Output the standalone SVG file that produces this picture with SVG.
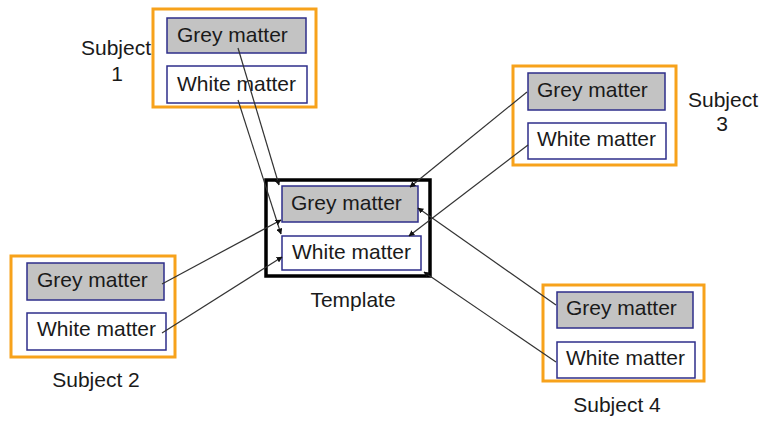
<svg xmlns="http://www.w3.org/2000/svg" width="760" height="421" viewBox="0 0 760 421">
<defs>
<style>
.t{font-family:"Liberation Sans",Arial,sans-serif;font-size:21px;fill:#1a1a1a}
.grp{fill:none;stroke:#f7a21b;stroke-width:3}
.tpl{fill:none;stroke:#000;stroke-width:3.5}
.g{fill:#c3c3c3;stroke:#2e2e8a;stroke-width:1.5}
.w{fill:#fff;stroke:#2e2e8a;stroke-width:1.5}
.c{fill:none;stroke:#333;stroke-width:1.2;marker-end:url(#ah)}
</style>
<marker id="ah" viewBox="0 0 10 10" refX="9" refY="5" markerWidth="6" markerHeight="6" orient="auto" markerUnits="userSpaceOnUse">
<path d="M0,0 L10,5 L0,10 z" fill="#111"/>
</marker>
</defs>
<rect width="760" height="421" fill="#fff"/>

<g id="subject1">
<rect class="grp" x="153" y="9" width="163" height="98"/>
<rect class="g" x="167" y="18" width="139" height="35"/>
<text class="t" x="177" y="42">Grey matter</text>
<rect class="w" x="167" y="66" width="140" height="37"/>
<text class="t" x="177" y="91">White matter</text>
<text class="t" x="81" y="55">Subject</text>
<text class="t" x="117" y="81" text-anchor="middle">1</text>
</g>

<g id="subject3">
<rect class="grp" x="513" y="66" width="163" height="99"/>
<rect class="g" x="528" y="73" width="137" height="37"/>
<text class="t" x="537" y="97">Grey matter</text>
<rect class="w" x="528" y="123" width="138" height="36"/>
<text class="t" x="537" y="146">White matter</text>
<text class="t" x="688" y="107">Subject</text>
<text class="t" x="722" y="131" text-anchor="middle">3</text>
</g>

<g id="subject2">
<rect class="grp" x="11" y="256" width="164" height="101"/>
<rect class="g" x="27" y="263" width="137" height="37"/>
<text class="t" x="37" y="287">Grey matter</text>
<rect class="w" x="27" y="313" width="139" height="37"/>
<text class="t" x="37" y="336">White matter</text>
<text class="t" x="96" y="387" text-anchor="middle">Subject 2</text>
</g>

<g id="subject4">
<rect class="grp" x="543" y="285" width="161" height="96"/>
<rect class="g" x="557" y="292" width="136" height="36"/>
<text class="t" x="566" y="315">Grey matter</text>
<rect class="w" x="557" y="342" width="138" height="36"/>
<text class="t" x="566" y="365">White matter</text>
<text class="t" x="617" y="412" text-anchor="middle">Subject 4</text>
</g>

<g id="template">
<rect class="tpl" x="266" y="180" width="164" height="96"/>
<rect class="g" x="282" y="186" width="136" height="36"/>
<text class="t" x="291" y="210">Grey matter</text>
<rect class="w" x="282" y="236" width="139" height="34"/>
<text class="t" x="292" y="259">White matter</text>
<text class="t" x="353" y="307" text-anchor="middle">Template</text>
</g>

<g id="connectors">
<line class="c" x1="238" y1="48" x2="279" y2="185"/>
<line class="c" x1="238" y1="100" x2="281" y2="234"/>
<line class="c" x1="162" y1="284" x2="281" y2="220"/>
<line class="c" x1="162" y1="333" x2="282" y2="257"/>
<line class="c" x1="527" y1="92" x2="410" y2="187"/>
<line class="c" x1="528" y1="145" x2="409" y2="236"/>
<line class="c" x1="556" y1="305" x2="418" y2="208"/>
<line class="c" x1="556" y1="362" x2="424" y2="272"/>
</g>
</svg>
